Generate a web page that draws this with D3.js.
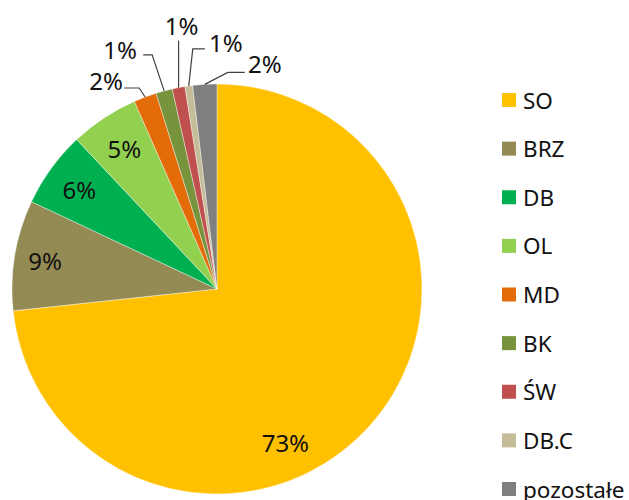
<!DOCTYPE html>
<html><head><meta charset="utf-8">
<script src="https://cdn.jsdelivr.net/npm/d3@7"></script>
<style>body{margin:0;background:#fff}svg{display:block}</style>
</head><body>
<script>
const categories = ["SO","BRZ","DB","OL","MD","BK","ŚW","DB.C","pozostałe"];
const values = [73.3, 8.7, 6.0, 5.4, 1.8, 1.3, 1.0, 0.6, 1.9];
const colors = ["#FFC000","#948A54","#00B050","#92D050","#E36C09","#77933C","#C0504D","#C4BD97","#7F7F7F"];

const W = 629, H = 500;
const cx = 217, cy = 289, R = 205;
const font = "'Noto Sans', sans-serif";

// label layout: inside labels (radius fraction, optional angle override in degrees),
// outside labels (text centre offset and knee offset from arc point)
const inside = {0:{r:0.82, ang:156}, 1:{r:0.85}, 2:{r:0.83}, 3:{r:0.82}};
const outside = {
  4:{tx:-39, ty:-17, kx:[-6,-21], ky:[-9,-9]},
  5:{tx:-44, ty:-41, kx:[-12,-21], ky:[-36,-36]},
  6:{tx:3,  ty:-62, kx:[0,0], ky:[-47,-47]},
  7:{tx:37, ty:-43, kx:[4,16], ky:[-37,-37]},
  8:{tx:60, ty:-21, kx:[23,40], ky:[-12,-12]}
};

const svg = d3.select("body").append("svg").attr("width", W).attr("height", H);

const pie = d3.pie().sort(null).value(d => d)(values);
const arc = d3.arc().innerRadius(0).outerRadius(R);
const total = d3.sum(values);
const fmt = v => Math.round(v / total * 100) + "%";

const g = svg.append("g").attr("transform", `translate(${cx},${cy})`);
g.selectAll("path.slice").data(pie).join("path")
  .attr("class","slice")
  .attr("d", arc)
  .attr("fill", (d,i) => colors[i])
  .attr("stroke", "#fff").attr("stroke-width", 0.4);

pie.forEach((d, i) => {
  const mid = (d.startAngle + d.endAngle) / 2;
  if (inside[i]) {
    const a = inside[i].ang !== undefined ? inside[i].ang * Math.PI / 180 : mid;
    const rr = R * inside[i].r;
    g.append("text")
      .attr("x", rr * Math.sin(a)).attr("y", -rr * Math.cos(a))
      .attr("text-anchor","middle").attr("dominant-baseline","central")
      .attr("font-family", font).attr("font-size", 24).attr("fill","#111")
      .text(fmt(d.value));
  } else {
    const o = outside[i];
    const px = R * Math.sin(mid), py = -R * Math.cos(mid);
    const pts = [[px, py], [px + o.kx[0], py + o.ky[0]], [px + o.kx[1], py + o.ky[1]]];
    g.append("path")
      .attr("d", d3.line()(pts))
      .attr("fill","none").attr("stroke","#404040").attr("stroke-width",1.2);
    g.append("text")
      .attr("x", px + o.tx).attr("y", py + o.ty)
      .attr("text-anchor","middle").attr("dominant-baseline","central")
      .attr("font-family", font).attr("font-size", 24).attr("fill","#111")
      .text(fmt(d.value));
  }
});

const y = d3.scalePoint().domain(categories).range([100, 489]);
const leg = svg.append("g").selectAll("g").data(categories).join("g")
  .attr("transform", d => `translate(502,${y(d)})`);
leg.append("rect").attr("x",0).attr("y",-7).attr("width",14).attr("height",14)
  .attr("fill", (d,i) => colors[i]);
leg.append("text").attr("x",21).attr("y",0).attr("dominant-baseline","central")
  .attr("font-family", font).attr("font-size", 22.5).attr("fill","#111")
  .text(d => d);
</script>
</body></html>
